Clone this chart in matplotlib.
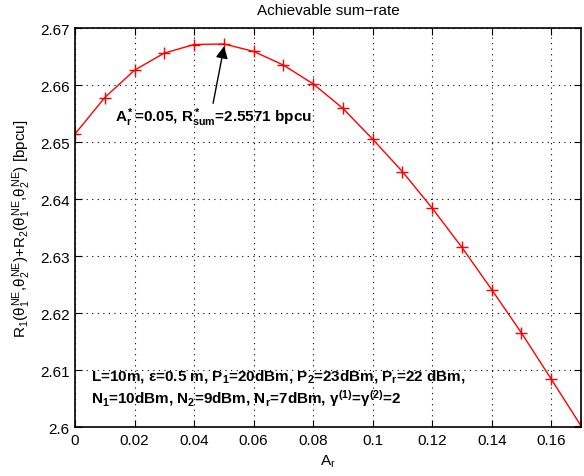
import numpy as np
import matplotlib
matplotlib.use("Agg")
import matplotlib.pyplot as plt
from matplotlib.ticker import FuncFormatter

# MATLAB-like look: Helvetica substitute and sans mathtext
plt.rcParams['font.family'] = ['Liberation Sans', 'DejaVu Sans']
plt.rcParams['mathtext.fontset'] = 'custom'
plt.rcParams['mathtext.rm'] = 'Liberation Sans'
plt.rcParams['mathtext.it'] = 'Liberation Sans'
plt.rcParams['mathtext.bf'] = 'Liberation Sans:bold'

# Data
a_r = [0.00, 0.01, 0.02, 0.03, 0.04, 0.05, 0.06, 0.07, 0.08,
       0.09, 0.10, 0.11, 0.12, 0.13, 0.14, 0.15, 0.16, 0.17]
sum_rate = [2.6514, 2.6578, 2.6626, 2.6656, 2.6671, 2.6672, 2.6659, 2.6635, 2.6602,
            2.6559, 2.6505, 2.6448, 2.6384, 2.6315, 2.6241, 2.6165, 2.6084, 2.6002]
x_ticks = [0, 0.02, 0.04, 0.06, 0.08, 0.1, 0.12, 0.14, 0.16]
y_ticks = [2.6, 2.61, 2.62, 2.63, 2.64, 2.65, 2.66, 2.67]

fig = plt.figure(figsize=(5.84, 4.77), dpi=100)
ax = fig.add_axes([0.1284, 0.1027, 0.8665, 0.8365])

ax.plot(a_r, sum_rate, color='red', lw=1.0, marker='+', markersize=9,
        markeredgewidth=1.0, clip_on=True)

ax.set_xlim(0, 0.17)
ax.set_ylim(2.6, 2.67)
ax.set_xticks(x_ticks)
ax.set_yticks(y_ticks)
fmt = FuncFormatter(lambda v, pos: f"{v:g}")
ax.xaxis.set_major_formatter(fmt)
ax.yaxis.set_major_formatter(fmt)
ax.tick_params(direction='in', top=True, right=True, labelsize=11,
               length=5, width=0.8, pad=4)
for sp in ax.spines.values():
    sp.set_linewidth(1.2)
ax.grid(True, linestyle=(0, (1, 4)), color='black', linewidth=0.8)

ax.set_title('Achievable sum\u2212rate', fontsize=11, pad=10)
ax.set_xlabel('A$_\\mathregular{r}$', fontsize=11, labelpad=4)
ax.set_ylabel('R$_1$($\\theta_1^{NE}$,$\\theta_2^{NE}$)+R$_2$($\\theta_1^{NE}$,$\\theta_2^{NE}$) [bpcu]',
              fontsize=11, labelpad=5)

# optimum marker arrow and label
ax.annotate('', xy=(0.0501, 2.6668), xytext=(0.0464, 2.6568),
            arrowprops=dict(arrowstyle='-|>', color='black', lw=1.0,
                            mutation_scale=18, shrinkA=0, shrinkB=0))
ax.text(0.0133, 2.6544, '$\\mathbf{A_r^*}$=0.05, $\\mathbf{R_{sum}^*}$=2.5571 bpcu',
        fontsize=11, fontweight='bold', ha='left', va='center')

ax.text(0.0053, 2.6091,
        'L=10m, \u03b5=0.5 m, $\\mathbf{P_1}$=20dBm, $\\mathbf{P_2}$=23dBm, $\\mathbf{P_r}$=22 dBm,',
        fontsize=11, fontweight='bold', ha='left', va='center')
ax.text(0.0053, 2.6051,
        '$\\mathbf{N_1}$=10dBm, $\\mathbf{N_2}$=9dBm, $\\mathbf{N_r}$=7dBm, \u03b3$^\\mathbf{(1)}$=\u03b3$^\\mathbf{(2)}$=2',
        fontsize=11, fontweight='bold', ha='left', va='center')

fig.savefig('out.png', dpi=100)
